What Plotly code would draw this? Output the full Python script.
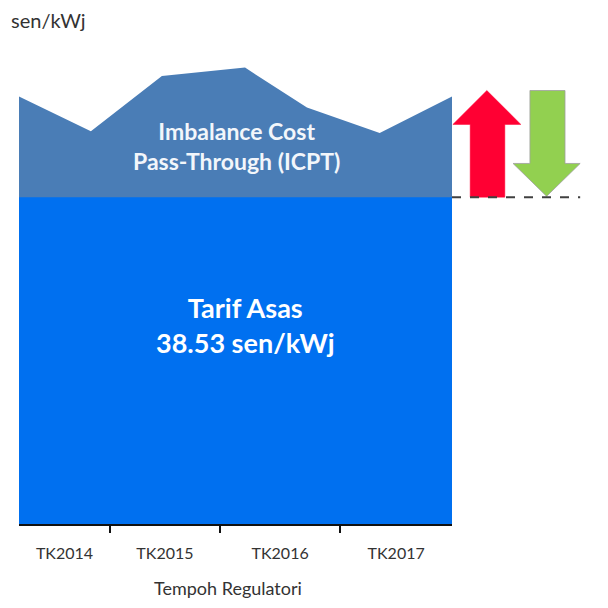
import plotly.graph_objects as go

# Data
base_tariff = 38.53  # sen/kWj
icpt_x = [0, 16.6, 33.0, 52.2, 66.5, 83.3, 100]          # % of regulatory period
icpt_top = [50.4, 46.3, 52.8, 53.8, 49.1, 46.1, 50.4]      # sen/kWj (schematic)
period_labels = ["TK2014", "TK2015", "TK2016", "TK2017"]
label_pos = [10.5, 33.7, 60.3, 87.1]
boundary_pos = [21.0, 46.4, 74.1]

FONT = "Lato"
fig = go.Figure()

# ICPT band (drawn first, base drawn over it)
fig.add_trace(go.Scatter(
    x=icpt_x, y=icpt_top, mode="lines", fill="tozeroy",
    line=dict(color="#4A7DB6", width=0), fillcolor="#4A7DB6",
    hoverinfo="skip", showlegend=False))
# Base tariff
fig.add_trace(go.Scatter(
    x=[icpt_x[0], icpt_x[-1]], y=[base_tariff, base_tariff], mode="lines",
    fill="tozeroy", line=dict(color="#0070F0", width=0), fillcolor="#0070F0",
    hoverinfo="skip", showlegend=False))

# Up arrow (decorative, paper x / data y)
rx0, rx1, rs0, rs1 = 1.002, 1.159, 1.042, 1.122
rm = (rx0 + rx1) / 2
fig.add_shape(type="path", xref="paper", yref="y",
              path=(f"M {rs0} {base_tariff} L {rs1} {base_tariff} L {rs1} 47.1 L {rx1} 47.1 "
                    f"L {rm} 51.1 L {rx0} 47.1 L {rs0} 47.1 Z"),
              fillcolor="#FF0033", line=dict(color="#FF0033", width=0.5))
# Down arrow
gx0, gx1, gs0, gs1 = 1.141, 1.296, 1.180, 1.261
gm = (gx0 + gx1) / 2
fig.add_shape(type="path", xref="paper", yref="y",
              path=(f"M {gs0} 51.1 L {gs1} 51.1 L {gs1} 42.5 L {gx1} 42.5 "
                    f"L {gm} {base_tariff + 0.1} L {gx0} 42.5 L {gs0} 42.5 Z"),
              fillcolor="#92D050", line=dict(color="#A0A0A0", width=0.8))
# Dashed reference line
fig.add_shape(type="line", xref="paper", yref="y", x0=1.0, x1=1.296,
              y0=base_tariff, y1=base_tariff,
              line=dict(color="#404040", width=2, dash="dash"))

# Texts
fig.add_annotation(x=50.3, y=44.6, xref="x", yref="y",
                   text="<b>Imbalance Cost<br>Pass-Through (ICPT)</b>",
                   showarrow=False, font=dict(family=FONT, size=23, color="#F2F6FB"),
                   align="center")
fig.add_annotation(x=52.4, y=23.5, xref="x", yref="y",
                   text="<b>Tarif Asas<br>38.53 sen/kWj</b>",
                   showarrow=False, font=dict(family=FONT, size=27, color="#FFFFFF"),
                   align="center")
fig.add_annotation(x=-0.022, y=0.99, xref="paper", yref="paper",
                   xanchor="left", yanchor="middle", text="sen/kWj",
                   showarrow=False, font=dict(family=FONT, size=20, color="#333333"))
# Axis title
fig.add_annotation(x=0.483, y=-0.126, xref="paper", yref="paper",
                   xanchor="center", yanchor="middle", text="Tempoh Regulatori",
                   showarrow=False, font=dict(family=FONT, size=18, color="#333333"))

fig.update_layout(
    width=600, height=600,
    margin=dict(l=11, r=156, t=7, b=84),
    paper_bgcolor="white", plot_bgcolor="white",
    font=dict(family=FONT, color="#333333"),
    xaxis=dict(range=[0, 100], showgrid=False, zeroline=False,
               showline=True, linecolor="#111111", linewidth=1.5,
               tickvals=label_pos, ticktext=period_labels,
               ticks="outside", ticklen=14, tickcolor="rgba(0,0,0,0)",
               tickfont=dict(size=16, color="#333333"),
               minor=dict(tickvals=boundary_pos, ticks="outside", ticklen=7,
                          tickwidth=2, tickcolor="#111111")),
    yaxis=dict(range=[0, 60], visible=False, showgrid=False, zeroline=False),
)

fig.write_html("out.html")
